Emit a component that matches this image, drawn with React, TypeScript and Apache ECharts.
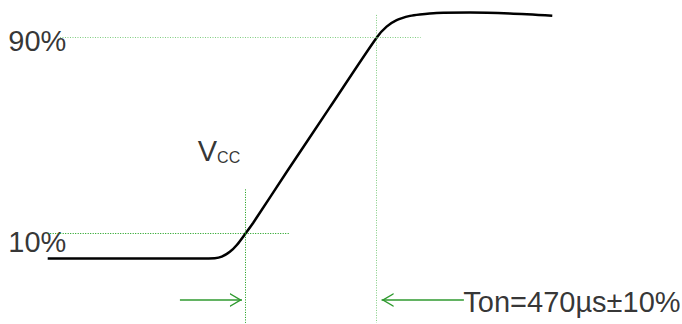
import React, { useEffect, useRef } from "react";
import * as echarts from "echarts";

// Rising edge of Vcc (time in µs, 0 = 10% crossing; level in % of Vcc)
const timeUs = [-709, -164, -110, -85, -56, -31, 0, 28, 150, 300, 470, 506, 542, 590, 625, 685, 805, 948, 1100];
const vccPct = [-0.2, -0.2, -0.1, 0.5, 2.5, 5.3, 10, 14.4, 35.5, 61.1, 90, 94.5, 97.2, 98.9, 99.5, 100.1, 100.3, 99.9, 99.0];

// Threshold levels and their guide lines
const levelPct = [10, 90];
const levelLabels = ["10%", "90%"];
const levelLineFrom = [-709, -665];
const levelLineTo = [160, 628];

// Crossing times (vertical guides)
const crossTimeUs = [0, 470];
const crossLineTop = [28, 99.3];
const crossLineBottom = -26.5;

// Ton arrows
const arrowPct = -17.2;
const arrowFrom = [-235, 783];
const arrowTo = [-12.5, 488];

// Text annotations
const labelTexts = [levelLabels[0], levelLabels[1], "{v|V}{s|CC}", "Ton=470µs±10%"];
const labelTimeUs = [-850, -850, -171, 781];
const labelPct = [6.7, 88.6, 43.6, -18.1];

const GUIDE_COLORS = ["#0f9a0f", "#7fcc7f"];
const ARROW_GREEN = "#2f9a2f";
const FONT = "'Liberation Sans', Arial, sans-serif";

const CHEVRON =
  "path://M7,12 L14,24 L12.4,24 L7,14.7 L1.6,24 L0,24 Z M7,0 L7,0.01 L7.01,0.01 Z";

export default function App() {
  const ref = useRef<HTMLDivElement>(null);

  useEffect(() => {
    if (!ref.current) return;
    const chart = echarts.init(ref.current, null, { renderer: "svg" });

    const guideSeries = levelPct.map((lv, i) => ({
      type: "line",
      name: "guide" + levelLabels[i],
      data: [],
      silent: true,
      color: GUIDE_COLORS[i],
      markLine: {
        silent: true,
        symbol: "none",
        label: { show: false },
        emphasis: { disabled: true },
        lineStyle: { color: GUIDE_COLORS[i], width: 1, type: [1, 1.5], opacity: 1 },
        data: [
          [{ coord: [levelLineFrom[i], lv] }, { coord: [levelLineTo[i], lv] }],
          [{ coord: [crossTimeUs[i], crossLineTop[i]] }, { coord: [crossTimeUs[i], crossLineBottom] }],
        ],
      },
    }));

    const arrowLines = arrowFrom.map((f, i) => [
      { coord: [f, arrowPct] },
      { coord: [arrowTo[i], arrowPct] },
    ]);

    chart.setOption({
      animation: false,
      grid: { left: 0, right: 0, top: 0, bottom: 0 },
      xAxis: { type: "value", min: -880, max: 1565, show: false, splitLine: { show: false } },
      yAxis: { type: "value", min: -27, max: 105.4, show: false, splitLine: { show: false } },
      series: [
        ...guideSeries,
        {
          type: "line",
          name: "arrows",
          data: [],
          silent: true,
          color: ARROW_GREEN,
          markLine: {
            silent: true,
            symbol: ["none", CHEVRON],
            symbolSize: [14, 24],
            label: { show: false },
            emphasis: { disabled: true },
            lineStyle: { color: ARROW_GREEN, width: 1.5, type: "solid" },
            itemStyle: { color: ARROW_GREEN },
            data: arrowLines,
          },
        },
        {
          type: "line",
          name: "Vcc",
          data: timeUs.map((t, i) => [t, vccPct[i]]),
          smooth: 0.3,
          showSymbol: false,
          silent: true,
          lineStyle: { color: "#000", width: 2.5 },
          z: 3,
        },
        {
          type: "scatter",
          name: "labels",
          silent: true,
          clip: false,
          symbolSize: 0,
          itemStyle: { color: "rgba(0,0,0,0)" },
          data: labelTexts.map((txt, i) => ({ value: [labelTimeUs[i], labelPct[i]], name: txt })),
          label: {
            show: true,
            position: "right",
            distance: 0,
            formatter: (p: any) => p.name,
            color: "#000",
            fontSize: 29,
            fontFamily: FONT,
            rich: {
              v: { fontSize: 29, fontFamily: FONT, color: "#000" },
              s: {
                fontSize: 16,
                fontFamily: FONT,
                color: "#000",
                verticalAlign: "bottom",
                lineHeight: 6,
              },
            },
          },
          z: 4,
        },
      ],
    });

    return () => chart.dispose();
  }, []);

  return (
    <div
      ref={ref}
      style={{ position: "fixed", left: 0, top: 0, width: 682, height: 324, background: "#fff" }}
    />
  );
}
